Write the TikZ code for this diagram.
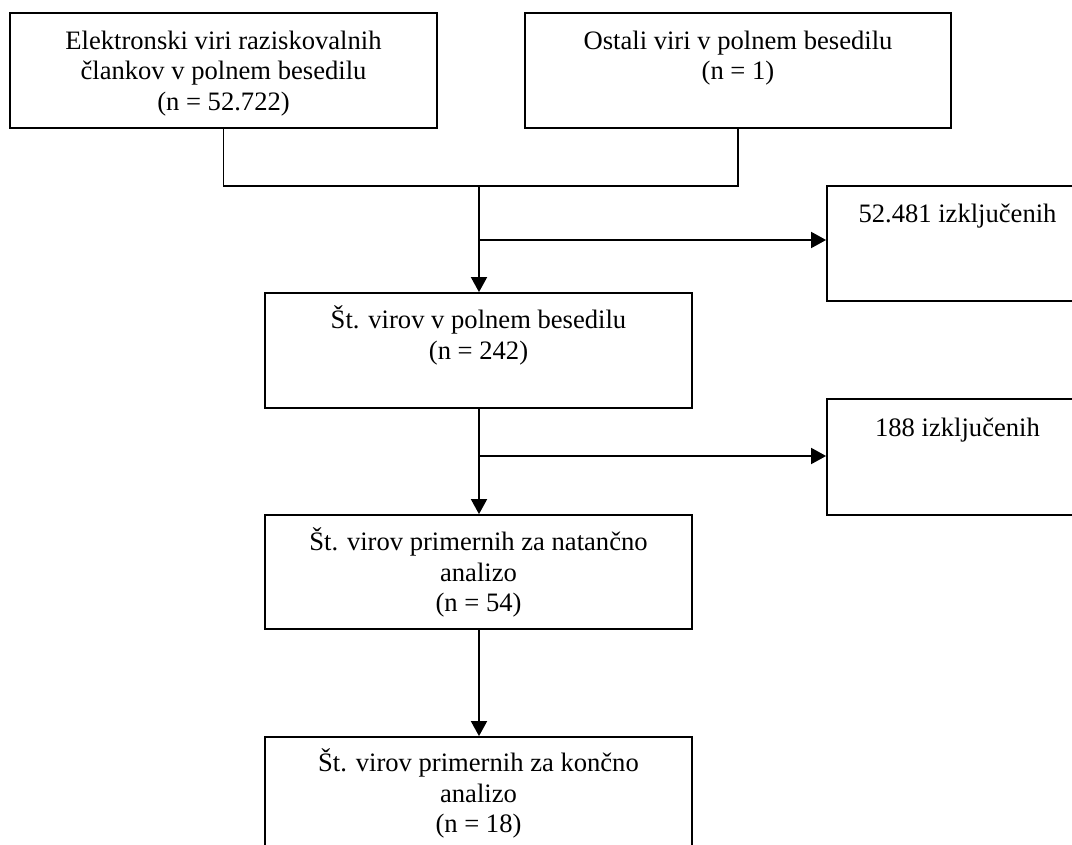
\documentclass[tikz,border=0pt]{standalone}
\usepackage{fontspec}
\setmainfont{Liberation Serif}
\usetikzlibrary{arrows.meta}
\begin{document}
\begin{tikzpicture}[x=1pt,y=-1pt, line width=1.8pt,
  boxnode/.style={draw=black, line width=1.8pt, rectangle, inner sep=0pt, minimum width=#1},
  txtnode/.style={anchor=north, inner sep=0pt, align=center,
    font=\fontsize{26.6}{30.5}\selectfont, execute at begin node={\rule{0pt}{25pt}}},
  arr/.style={-{Triangle[length=15pt,width=16pt]}, line width=1.8pt}
]
\useasboundingbox (0,0) rectangle (1072,845);
\clip (0,0) rectangle (1072,845);
\fill[white] (0,0) rectangle (1072,845);

% boxes
\node[boxnode=427pt, minimum height=115pt] (b1) at (223.5,70.5) {};
\node[boxnode=426pt, minimum height=115pt] (b2) at (738,70.5) {};
\node[boxnode=261pt, minimum height=115pt] (b4) at (957.5,243.5) {};
\node[boxnode=427pt, minimum height=115pt] (b3) at (478.5,350.5) {};
\node[boxnode=261pt, minimum height=116pt] (b5) at (957.5,457) {};
\node[boxnode=427pt, minimum height=114pt] (b6) at (478.5,572) {};
\node[boxnode=427pt, minimum height=115pt] (b7) at (478.5,794.5) {};

% texts
\node[txtnode] (t1) at ([yshift=-18pt]b1.north) {Elektronski viri raziskovalnih\\člankov v polnem besedilu\\(n = 52.722)};
\node[txtnode] (t2) at ([yshift=-18pt]b2.north) {Ostali viri v polnem besedilu\\(n = 1)};
\node[txtnode] (t4) at ([yshift=-12pt]b4.north) {52.481 izključenih};
\node[txtnode] (t3) at ([yshift=-13pt]b3.north) {Št. virov v polnem besedilu\\(n = 242)};
\node[txtnode] (t5) at ([yshift=-12pt]b5.north) {188 izključenih};
\node[txtnode] (t6) at ([yshift=-13pt]b6.north) {Št. virov primernih za natančno\\analizo\\(n = 54)};
\node[txtnode] (t7) at ([yshift=-12pt]b7.north) {Št. virov primernih za končno\\analizo\\(n = 18)};

% connectors
\coordinate (j) at (479,186);
\coordinate (k1) at (479,240);
\coordinate (k2) at (479,456);
\draw (b1.south) |- (j) -| (b2.south);
\draw[arr] (j) -- (j |- b3.north);
\draw[arr] (k1) -- (k1 -| b4.west);
\draw[arr] (b3.south -| j) -- (j |- b6.north);
\draw[arr] (k2) -- (k2 -| b5.west);
\draw[arr] (b6.south -| j) -- (j |- b7.north);
\end{tikzpicture}
\end{document}
